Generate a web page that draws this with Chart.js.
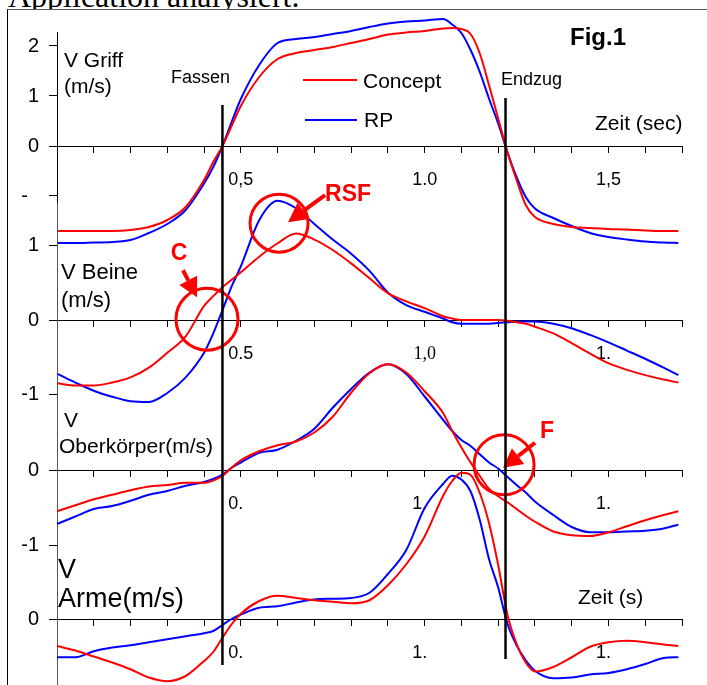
<!DOCTYPE html>
<html>
<head>
<meta charset="utf-8">
<script src="https://cdn.jsdelivr.net/npm/chart.js@4.4.1/dist/chart.umd.min.js"></script>
<style>
  html, body { margin: 0; padding: 0; background: #fff; }
  #stage { position: relative; width: 707px; height: 685px; overflow: hidden; font-family: "Liberation Sans", Arial, sans-serif; }
  #caption { position: absolute; left: 8px; top: -20px; font-family: "Liberation Serif", "Times New Roman", serif; font-size: 32px; line-height: 1; white-space: nowrap; }
  #frame { position: absolute; left: 7px; top: 9px; width: 720px; height: 700px; background: #fff; border-top: 1px solid #555; border-left: 1px solid #000; }
  canvas { position: absolute; left: 0; top: 0; }
  .t { position: absolute; white-space: nowrap; line-height: 1; color: #000; }
  .key { position: absolute; height: 2px; }
</style>
</head>
<body>
<div id="stage">
  <div id="caption">Application analysiert.</div>
  <div id="frame"></div>
  <canvas id="griff" width="707" height="685"></canvas>
  <canvas id="beine" width="707" height="685"></canvas>
  <canvas id="ober" width="707" height="685"></canvas>
  <canvas id="arme" width="707" height="685"></canvas>

  <div class="t" style="left:64px;top:49px;font-size:21px">V Griff</div>
  <div class="t" style="left:64px;top:75px;font-size:21px">(m/s)</div>
  <div class="t" style="left:171px;top:68px;font-size:18px">Fassen</div>
  <div class="t" style="left:501px;top:70px;font-size:18px">Endzug</div>
  <div class="t" style="left:570px;top:25px;font-size:24px;font-weight:bold">Fig.1</div>
  <div class="key" style="left:303px;top:79px;width:54px;background:#ff0000"></div>
  <div class="t" style="left:363px;top:70px;font-size:21px">Concept</div>
  <div class="key" style="left:305px;top:119px;width:52px;background:#0000ff"></div>
  <div class="t" style="left:364px;top:109px;font-size:21px">RP</div>
  <div class="t" style="left:595px;top:112px;font-size:21px">Zeit (sec)</div>
  <div class="t" style="left:61px;top:261px;font-size:22px">V Beine</div>
  <div class="t" style="left:61px;top:289px;font-size:22px">(m/s)</div>
  <div class="t" style="left:64px;top:409px;font-size:21px">V</div>
  <div class="t" style="left:59px;top:435px;font-size:21px">Oberkörper(m/s)</div>
  <div class="t" style="left:58px;top:556px;font-size:27px">V</div>
  <div class="t" style="left:58px;top:585px;font-size:27px">Arme(m/s)</div>
  <div class="t" style="left:578px;top:586px;font-size:21px">Zeit (s)</div>
</div>

<script>
// time axis (s), shared by all curves
const time = [0, 0.05, 0.1, 0.15, 0.2, 0.25, 0.3, 0.35, 0.4, 0.425, 0.45, 0.475, 0.5, 0.55, 0.6, 0.65, 0.7, 0.75, 0.8, 0.85,
  0.9, 0.95, 1.0, 1.05, 1.075, 1.1, 1.125, 1.15, 1.175, 1.2, 1.225, 1.25, 1.275, 1.3, 1.35, 1.4, 1.45, 1.5, 1.55, 1.6, 1.65, 1.69];

// V Griff (m/s)
const griffConcept = [-1.70, -1.70, -1.70, -1.70, -1.68, -1.62, -1.48, -1.22, -0.68, -0.32, 0.0, 0.40, 0.80, 1.38, 1.74, 1.86, 1.92, 1.98, 2.06, 2.14,
  2.23, 2.27, 2.30, 2.35, 2.36, 2.34, 2.24, 1.85, 1.22, 0.55, -0.12, -0.68, -1.18, -1.42, -1.56, -1.62, -1.64, -1.66, -1.67, -1.69, -1.70, -1.70];
const griffRP = [-1.94, -1.94, -1.93, -1.92, -1.88, -1.74, -1.56, -1.28, -0.75, -0.42, 0.0, 0.48, 0.94, 1.62, 2.06, 2.14, 2.18, 2.24, 2.30, 2.38,
  2.45, 2.49, 2.51, 2.54, 2.43, 2.26, 1.92, 1.48, 0.95, 0.45, -0.12, -0.62, -1.02, -1.25, -1.44, -1.60, -1.74, -1.82, -1.87, -1.91, -1.93, -1.94];

// V Beine (m/s)
const beineConcept = [-0.85, -0.88, -0.88, -0.84, -0.77, -0.64, -0.44, -0.22, 0.19, 0.32, 0.44, 0.54, 0.64, 0.85, 1.03, 1.16, 1.08, 0.94, 0.76, 0.56,
  0.36, 0.25, 0.16, 0.05, 0.02, 0.0, 0.0, 0.0, 0.0, 0.0, -0.01, -0.03, -0.05, -0.09, -0.18, -0.31, -0.45, -0.58, -0.67, -0.74, -0.80, -0.84];
const beineRP = [-0.72, -0.84, -0.95, -1.03, -1.09, -1.10, -0.98, -0.77, -0.44, -0.18, 0.13, 0.45, 0.72, 1.34, 1.60, 1.50, 1.29, 1.08, 0.89, 0.66,
  0.37, 0.20, 0.11, 0.02, -0.03, -0.05, -0.05, -0.05, -0.05, -0.04, -0.03, -0.02, -0.02, -0.02, -0.05, -0.11, -0.20, -0.30, -0.41, -0.52, -0.64, -0.74];

// V Oberkörper (m/s)
const oberConcept = [-0.55, -0.47, -0.39, -0.33, -0.27, -0.22, -0.20, -0.17, -0.17, -0.14, -0.08, 0.03, 0.13, 0.25, 0.33, 0.38, 0.50, 0.71, 1.03, 1.29,
  1.41, 1.30, 1.05, 0.76, 0.52, 0.30, 0.10, -0.08, -0.25, -0.35, -0.43, -0.52, -0.61, -0.69, -0.82, -0.87, -0.88, -0.83, -0.75, -0.67, -0.60, -0.55];
const oberRP = [-0.72, -0.62, -0.52, -0.48, -0.41, -0.33, -0.28, -0.21, -0.16, -0.12, -0.06, 0.03, 0.10, 0.23, 0.27, 0.39, 0.55, 0.83, 1.08, 1.30,
  1.41, 1.28, 0.98, 0.67, 0.52, 0.40, 0.32, 0.21, 0.10, 0.02, -0.09, -0.20, -0.30, -0.42, -0.60, -0.76, -0.83, -0.83, -0.82, -0.81, -0.78, -0.73];

// V Arme (m/s)
const armeConcept = [-0.36, -0.42, -0.50, -0.58, -0.67, -0.78, -0.83, -0.76, -0.56, -0.44, -0.25, -0.07, 0.07, 0.24, 0.31, 0.28, 0.25, 0.23, 0.21, 0.25,
  0.45, 0.73, 1.10, 1.64, 1.84, 1.95, 1.92, 1.68, 1.28, 0.72, 0.06, -0.33, -0.58, -0.70, -0.64, -0.51, -0.37, -0.31, -0.29, -0.31, -0.34, -0.36];
const armeRP = [-0.51, -0.51, -0.43, -0.38, -0.35, -0.31, -0.27, -0.23, -0.19, -0.16, -0.08, 0.0, 0.06, 0.15, 0.17, 0.22, 0.26, 0.27, 0.28, 0.35,
  0.60, 0.92, 1.48, 1.80, 1.91, 1.86, 1.70, 1.32, 0.80, 0.42, -0.06, -0.35, -0.55, -0.69, -0.79, -0.78, -0.74, -0.72, -0.67, -0.60, -0.52, -0.51];

// tick labels
const xLabelTimes = [0.5, 1.0, 1.5];
const griffXLabels = ['0,5', '1.0', '1,5'];
const beineXLabels = ['0.5', '1,0', '1.  '];
const oberXLabels = ['0.  ', '1.  ', '1.  '];
const armeXLabels = ['0.  ', '1.  ', '1.  '];
const griffYValues = [2, 1, 0, -1];
const griffYLabels = ['2', '1', '0', '-  '];
const beineYValues = [1, 0, -1];
const beineYLabels = ['1', '0', '-1'];
const oberYValues = [0, -1];
const oberYLabels = ['0', '-1'];
const armeYValues = [0];
const armeYLabels = ['0'];

// stroke phases (Fassen, Endzug)
const eventTimes = [0.45, 1.22];

// marked spots: C, RSF, F
const markLabels = ['C', 'RSF', 'F'];
const markPanels = ['beine', 'beine', 'ober'];
const markTimes = [0.408, 0.604, 1.216];
const markValues = [0.01, 1.30, 0.07];

const sans = '"Liberation Sans", Arial, Helvetica, sans-serif';
const serif = '"Liberation Serif", "Times New Roman", serif';
Chart.defaults.font.family = sans;
Chart.defaults.color = '#000';

// layout (pixels)
const panels = [
  { id: 'griff', concept: griffConcept, rp: griffRP, xLabels: griffXLabels, yValues: griffYValues, yLabels: griffYLabels,
    zeroY: 146, pxPerUnit: 50, top: 32, bottom: 250, axisColor: '#000', serifLabel: -1 },
  { id: 'beine', concept: beineConcept, rp: beineRP, xLabels: beineXLabels, yValues: beineYValues, yLabels: beineYLabels,
    zeroY: 320, pxPerUnit: 74.5, top: 203, bottom: 405, axisColor: '#555', serifLabel: 1 },
  { id: 'ober', concept: oberConcept, rp: oberRP, xLabels: oberXLabels, yValues: oberYValues, yLabels: oberYLabels,
    zeroY: 470, pxPerUnit: 75, top: 365, bottom: 552, axisColor: '#555', serifLabel: -1 },
  { id: 'arme', concept: armeConcept, rp: armeRP, xLabels: armeXLabels, yValues: armeYValues, yLabels: armeYLabels,
    zeroY: 619, pxPerUnit: 75, top: 540, bottom: 685, axisColor: '#555', serifLabel: -1 }
];
const eventTop = [105, 98];
const eventBottom = [665, 659];
const markStyle = [
  { r: 31, tail: [-24, -49], tip: [-10, -22], text: [-28, -66] },
  { r: 29, tail: [46, -28], tip: [9, -1], text: [69, -28] },
  { r: 30, tail: [31, -22], tip: [-1, 3], text: [43, -33] }
];

function labelIndex(value) {
  return xLabelTimes.findIndex(t => Math.abs(t - value) < 1e-6);
}

function drawArrow(ctx, x1, y1, x2, y2) {
  const ang = Math.atan2(y2 - y1, x2 - x1);
  const head = 19, half = 10;
  const bx = x2 - head * Math.cos(ang), by = y2 - head * Math.sin(ang);
  ctx.beginPath();
  ctx.moveTo(x1, y1);
  ctx.lineTo(bx, by);
  ctx.stroke();
  ctx.beginPath();
  ctx.moveTo(x2, y2);
  ctx.lineTo(bx + half * Math.sin(ang), by - half * Math.cos(ang));
  ctx.lineTo(bx - half * Math.sin(ang), by + half * Math.cos(ang));
  ctx.closePath();
  ctx.fill();
}

const markPlugin = {
  id: 'marks',
  afterDraw(chart) {
    const ctx = chart.ctx;
    markPanels.forEach((panel, i) => {
      if (panel !== chart.canvas.id) return;
      const cx = chart.scales.x.getPixelForValue(markTimes[i]);
      const cy = chart.scales.y.getPixelForValue(markValues[i]);
      const m = markStyle[i];
      ctx.save();
      ctx.strokeStyle = '#ff0000';
      ctx.fillStyle = '#ff0000';
      ctx.lineWidth = 3;
      ctx.beginPath();
      ctx.arc(cx, cy, m.r, 0, Math.PI * 2);
      ctx.stroke();
      ctx.lineWidth = 4;
      drawArrow(ctx, cx + m.tail[0], cy + m.tail[1], cx + m.tip[0], cy + m.tip[1]);
      ctx.font = 'bold 23px ' + sans;
      ctx.textAlign = 'center';
      ctx.textBaseline = 'middle';
      ctx.fillText(markLabels[i], cx + m.text[0], cy + m.text[1]);
      ctx.restore();
    });
  }
};

const eventPlugin = {
  id: 'events',
  afterDraw(chart) {
    if (chart.canvas.id !== 'arme') return;
    const ctx = chart.ctx;
    ctx.save();
    ctx.strokeStyle = '#000';
    ctx.lineWidth = 2.5;
    eventTimes.forEach((t, i) => {
      const x = chart.scales.x.getPixelForValue(t);
      ctx.beginPath();
      ctx.moveTo(x, eventTop[i]);
      ctx.lineTo(x, eventBottom[i]);
      ctx.stroke();
    });
    ctx.restore();
  }
};

function makePanel(p) {
  const yMax = (p.zeroY - p.top) / p.pxPerUnit;
  const yMin = -(p.bottom - p.zeroY) / p.pxPerUnit;
  const series = (arr) => time.map((t, i) => ({ x: t, y: arr[i] }));

  new Chart(document.getElementById(p.id), {
    type: 'line',
    data: {
      datasets: [
        { label: 'Concept', data: series(p.concept), borderColor: '#ff0000', borderWidth: 2, clip: false },
        { label: 'RP', data: series(p.rp), borderColor: '#0000ff', borderWidth: 2, clip: false }
      ]
    },
    options: {
      responsive: false,
      animation: false,
      devicePixelRatio: 1,
      layout: { autoPadding: false, padding: { left: 0, right: 25, top: p.top, bottom: 685 - p.bottom } },
      elements: { point: { radius: 0 }, line: { cubicInterpolationMode: 'monotone' } },
      plugins: { legend: { display: false }, tooltip: { enabled: false } },
      scales: {
        x: {
          type: 'linear',
          min: 0,
          max: 1.7,
          position: { y: 0 },
          border: { color: '#000', width: 1 },
          grid: { drawOnChartArea: false, tickLength: 6, color: '#000' },
          afterFit: (s) => { s.paddingLeft = 0; s.paddingRight = 0; },
          ticks: {
            stepSize: 0.1,
            autoSkip: false,
            maxRotation: 0,
            padding: 17,
            font: (ctx) => {
              const i = ctx.tick ? labelIndex(ctx.tick.value) : -1;
              return { size: 18, family: i === p.serifLabel ? serif : sans };
            },
            callback: (value) => {
              const i = labelIndex(value);
              return i >= 0 ? p.xLabels[i] : '';
            }
          }
        },
        y: {
          type: 'linear',
          min: yMin,
          max: yMax,
          position: 'left',
          border: { color: p.axisColor, width: 1 },
          grid: { drawOnChartArea: false, tickLength: 8, color: '#000' },
          afterFit: (s) => { s.width = 57; s.paddingTop = 0; s.paddingBottom = 0; },
          ticks: {
            stepSize: 1,
            includeBounds: false,
            padding: 10,
            font: { size: 20 },
            callback: (value) => {
              const r = Math.round(value);
              if (Math.abs(value - r) > 1e-6) return null;
              const i = p.yValues.indexOf(r);
              return i >= 0 ? p.yLabels[i] : null;
            }
          }
        }
      }
    },
    plugins: [markPlugin, eventPlugin]
  });
}

panels.forEach(makePanel);
</script>
</body>
</html>
